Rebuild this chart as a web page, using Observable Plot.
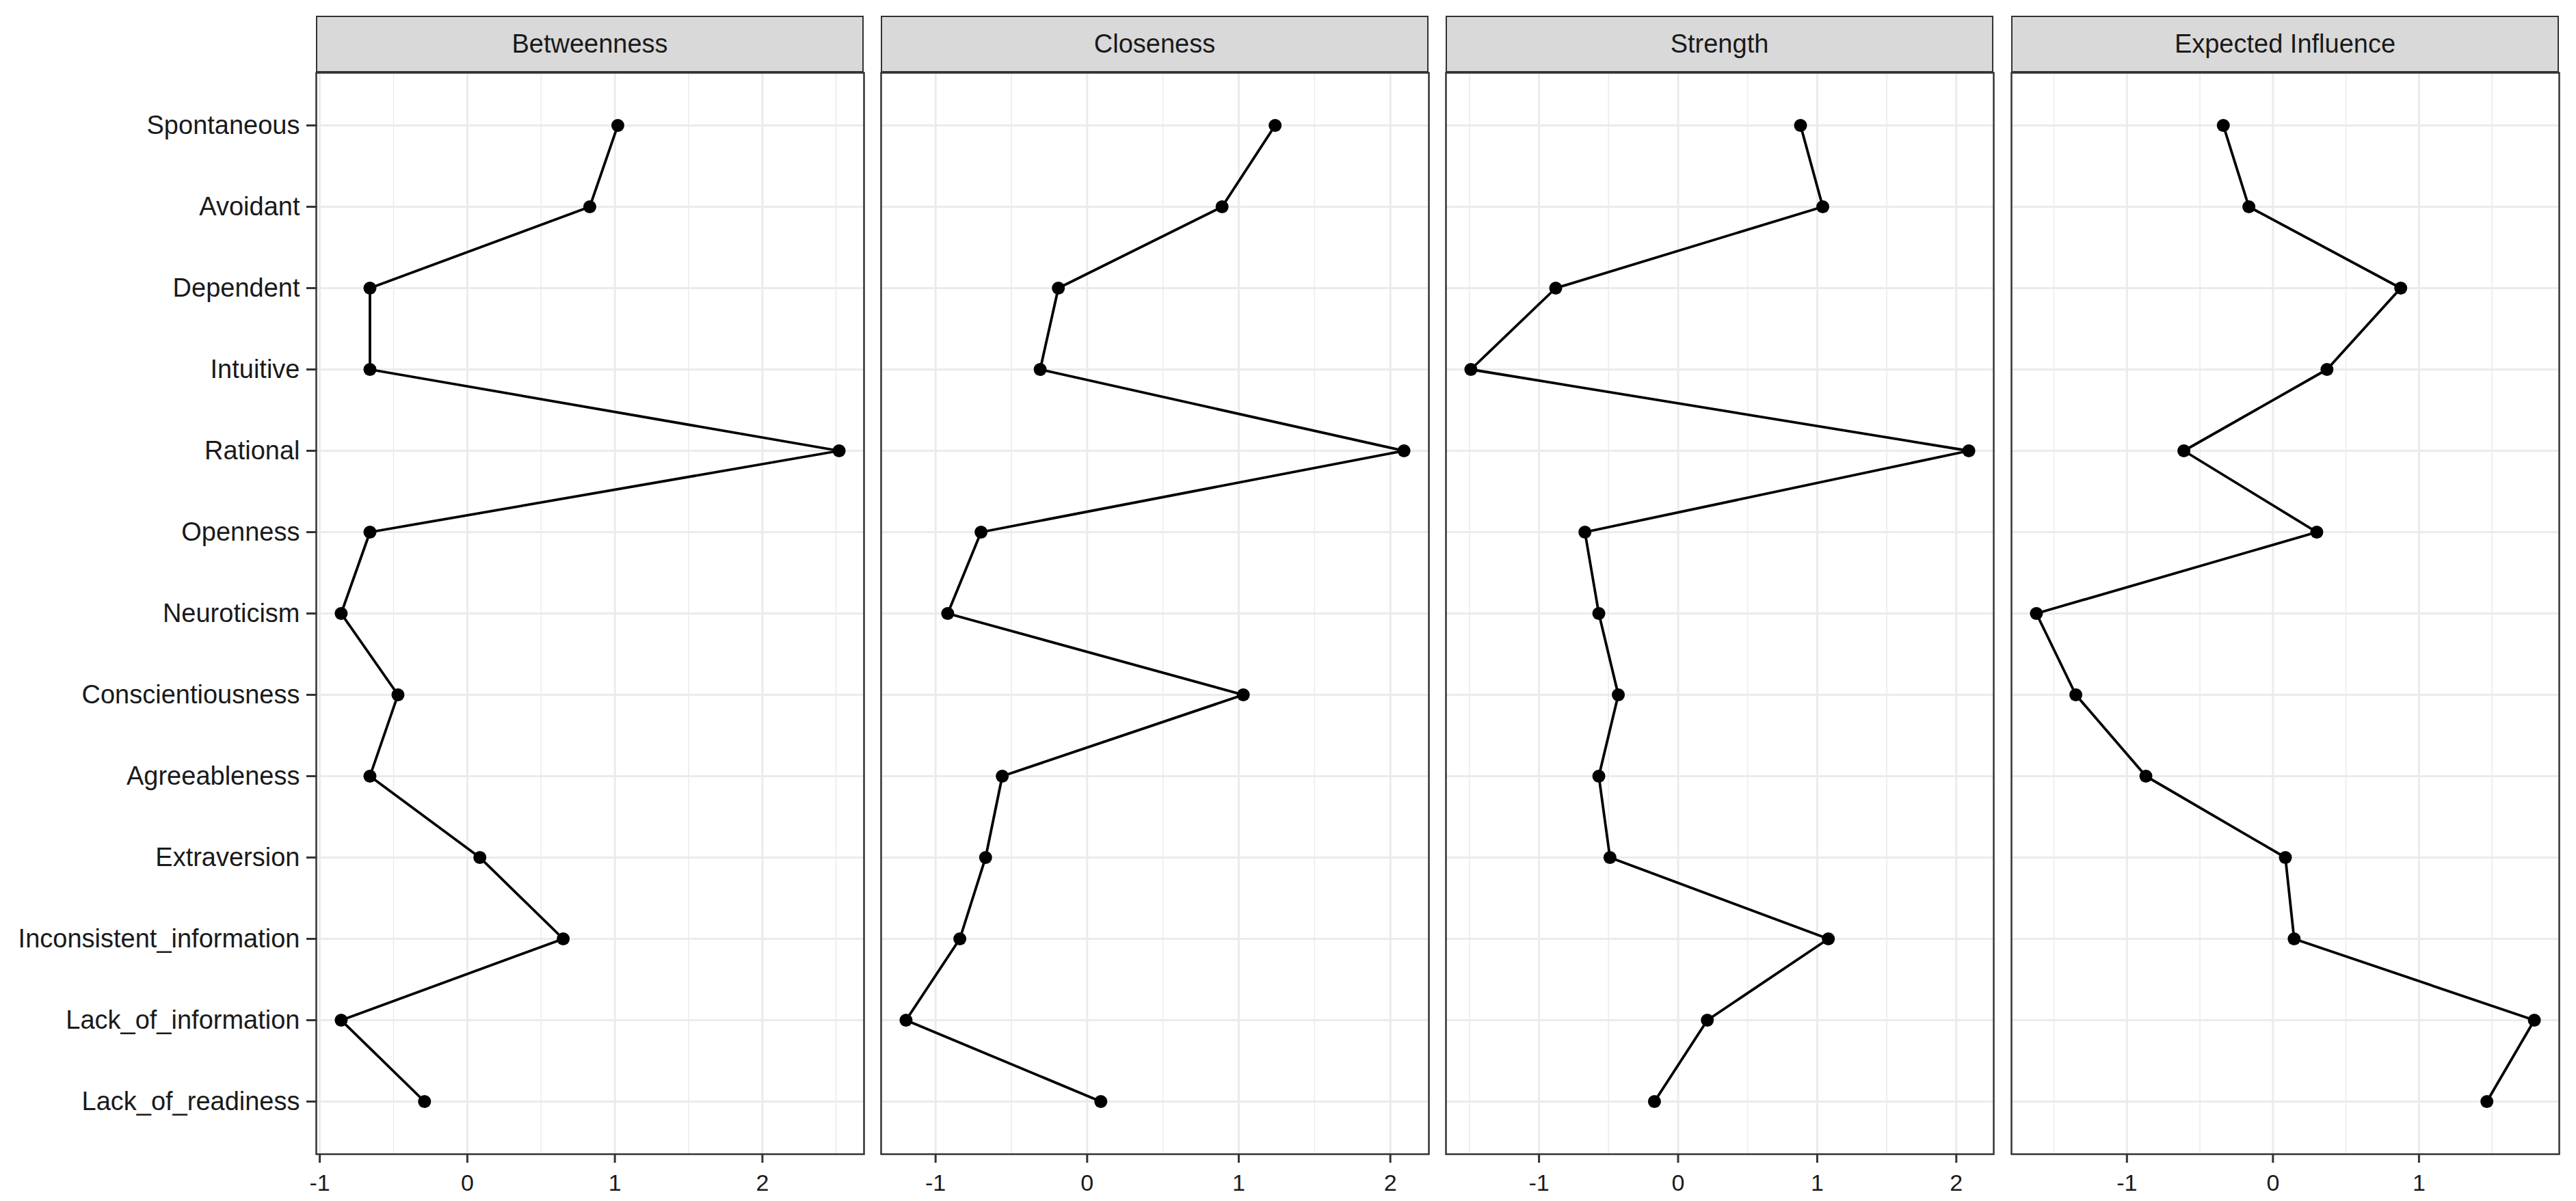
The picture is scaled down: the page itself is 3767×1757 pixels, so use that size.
<!DOCTYPE html>
<html>
<head>
<meta charset="utf-8">
<script src="https://cdn.jsdelivr.net/npm/d3@7"></script>
<script src="https://cdn.jsdelivr.net/npm/@observablehq/plot@0.6"></script>
<style>
  body { margin: 0; background: #fff; font-family: "Liberation Sans", Arial, sans-serif; }
  #root { position: relative; width: 3767px; height: 1757px; overflow: hidden; }
  .strip { position: absolute; box-sizing: border-box; background: #D9D9D9; border: 2.5px solid #333;
           display: flex; align-items: center; justify-content: center; font-size: 38px; color: #1a1a1a; }
  .panel { position: absolute; }
</style>
</head>
<body>
<div id="root"></div>
<script>
// ---- data ----
const nodes = ["Spontaneous", "Avoidant", "Dependent", "Intuitive", "Rational", "Openness", "Neuroticism",
  "Conscientiousness", "Agreeableness", "Extraversion", "Inconsistent_information", "Lack_of_information", "Lack_of_readiness"];
const measures = ["Betweenness", "Closeness", "Strength", "Expected Influence"];
const betweenness = [1.02, 0.83, -0.66, -0.66, 2.52, -0.66, -0.855, -0.47, -0.66, 0.085, 0.65, -0.855, -0.29];
const closeness = [1.24, 0.89, -0.19, -0.31, 2.09, -0.70, -0.92, 1.03, -0.56, -0.67, -0.84, -1.195, 0.09];
const strength = [0.88, 1.04, -0.88, -1.49, 2.09, -0.67, -0.57, -0.43, -0.57, -0.49, 1.08, 0.21, -0.17];
const expectedInfluence = [-0.34, -0.165, 0.875, 0.37, -0.61, 0.30, -1.62, -1.35, -0.87, 0.085, 0.145, 1.79, 1.465];
const series = [betweenness, closeness, strength, expectedInfluence];

// ---- layout ----
const panelLefts = [462, 1288, 2114, 2941];
const panelW = 801;
const svgTop = 100, svgH = 1657, mTop = 6, mBottom = 69, mSide = 6;
const grid = "#EBEBEB";
const root = document.getElementById("root");
const fmt = d => d < 0 ? "-" + (-d) : String(d);

measures.forEach((m, i) => {
  const vals = series[i];
  const rows = nodes.map((n, k) => ({node: n, value: vals[k]}));
  const lo = d3.min(vals), hi = d3.max(vals), r = hi - lo;
  const domain = [lo - 0.05 * r, hi + 0.05 * r];
  const major = d3.range(Math.ceil(domain[0]), Math.floor(domain[1]) + 1);
  const minor = d3.range(Math.ceil(domain[0] - 0.5) + 0.5, domain[1], 1);
  const ml = i === 0 ? panelLefts[0] : mSide;

  const marks = [
    Plot.ruleX(minor, {stroke: grid, strokeWidth: 1.5}),
    Plot.ruleX(major, {stroke: grid, strokeWidth: 3}),
    Plot.ruleY(nodes, {stroke: grid, strokeWidth: 3}),
    Plot.line(rows, {x: "value", y: "node", stroke: "black", strokeWidth: 3.8}),
    Plot.dot(rows, {x: "value", y: "node", r: 9.5, fill: "black", stroke: "none"}),
    Plot.frame({stroke: "#333", strokeWidth: 2.5}),
    Plot.axisX(major, {tickSize: 13, tickPadding: 16, tickFormat: fmt, fontSize: 34, stroke: "#333", strokeWidth: 3, label: null})
  ];
  if (i === 0) {
    marks.push(Plot.axisY({tickSize: 14, tickPadding: 10, fontSize: 38, stroke: "#333", strokeWidth: 3, label: null}));
  }

  const chart = Plot.plot({
    width: ml + panelW + mSide,
    height: svgH,
    marginTop: mTop, marginBottom: mBottom, marginLeft: ml, marginRight: mSide,
    x: {domain, label: null},
    y: {type: "point", domain: nodes, padding: 0.6, label: null, axis: i === 0 ? undefined : null},
    style: {fontFamily: "'Liberation Sans', Arial, sans-serif", color: "#1a1a1a", background: "transparent", overflow: "visible"},
    marks
  });
  const wrap = document.createElement("div");
  wrap.className = "panel";
  wrap.style.left = (panelLefts[i] - ml) + "px";
  wrap.style.top = svgTop + "px";
  wrap.appendChild(chart);
  root.appendChild(wrap);

  const strip = document.createElement("div");
  strip.className = "strip";
  strip.style.left = panelLefts[i] + "px";
  strip.style.top = "23px";
  strip.style.width = panelW + "px";
  strip.style.height = "83px";
  strip.textContent = m;
  root.appendChild(strip);
});
</script>
</body>
</html>
